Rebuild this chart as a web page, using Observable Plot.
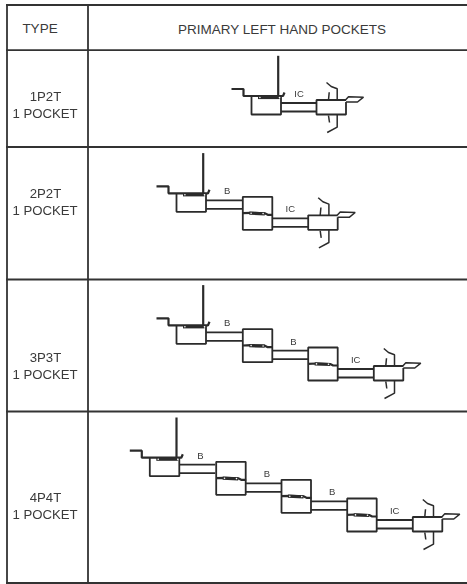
<!DOCTYPE html>
<html><head><meta charset="utf-8">
<style>html,body{margin:0;padding:0;background:#fff}svg{display:block}svg g[aria-label="text"]{opacity:.999}</style>
<script src="https://cdn.jsdelivr.net/npm/d3@7"></script>
<script src="https://cdn.jsdelivr.net/npm/@observablehq/plot@0.6"></script>
</head><body><div id="c"></div>
<script>
// Table rules
const ruleY = [4.5, 49.7, 146.5, 279, 411, 582.5];
const ruleX = [6.5, 87.5];
// Row labels
const headers = [["TYPE", 39.5, 28], ["PRIMARY LEFT HAND POCKETS", 281.5, 29]];
const types = ["1P2T", "2P2T", "3P3T", "4P4T"];
const typeY = [96, 193, 357.3, 497];
const pocketY = [113, 210, 374, 514];
// Module positions of each row: left edge, bottom edge
const moduleX = [
  [251, 316],
  [176, 242.3, 307.7],
  [176, 242.3, 307.7, 373.3],
  [149.3, 215.7, 281, 346.7, 412.3]
];
const moduleBottom = [
  [114, 114],
  [211.3, 229.3, 229.3],
  [343.3, 361.7, 380, 380],
  [475.7, 494.3, 512.3, 531, 531]
];
// Part outlines, offsets from a module's left/bottom corner
const W = 29.5;
const firstParts = [
  {w: 1.8, p: [[0,-18.3],[0,0],[W,0],[W,-18.3]]},
  {w: 2.2, p: [[-20,-25.5],[-8,-25.5],[-8,-18.5],[31.5,-18.5],[33,-22]]},
  {w: 2.2, p: [[26.7,-58.7],[26.7,-18.5]]},
  {w: 3.2, p: [[6.5,-17],[28,-17]]}
];
const middleParts = [
  {w: 1.8, p: [[0,-16],[0,-33],[W,-33],[W,0],[0,0],[0,-16]]},
  {w: 2.2, p: [[0,-16.7],[8,-17],[22,-16.5],[25,-15],[30,-15]]},
  {w: 3.2, p: [[6.5,-16.6],[22,-16]]}
];
const connectorParts = [
  {w: 1.8, p: [[0,-11.5],[36,-11.5]]},
  {w: 1.8, p: [[0,-3],[36,-3]]}
];
const outletParts = [
  {w: 1.8, p: [[W,-12.5],[W,0],[0,0],[0,-14.5],[W,-14.5]]},
  {w: 1.5, p: [[29,-14.5],[32,-17.7],[47,-17.3],[41,-12.5],[W,-12.5]]},
  {w: 1.5, p: [[10,-32],[14.7,-28],[20.7,-25.7],[20.7,-14.7]]},
  {w: 1.5, p: [[12.7,-22.3],[12,-14.7]]},
  {w: 1.5, p: [[12,1],[13,8]]},
  {w: 1.5, p: [[20.7,0],[20.7,12.7],[10.7,18]]}
];
// Small white rivets on the blobs: offsets from the module corner
const firstRivets = [[8.4,-17],[28,-17]];
const middleRivets = [[8.3,-16.6],[20.3,-16.2]];

const segs = [];
const rivets = [];
let id = 0;
function add(parts, x0, y0) {
  for (const part of parts) {
    id++;
    for (const [dx, dy] of part.p) segs.push({id, w: part.w, x: x0 + dx, y: y0 + dy});
  }
}
const labels = [];
moduleX.forEach((xs, r) => {
  xs.forEach((x, i) => {
    const b = moduleBottom[r][i];
    const last = i === xs.length - 1;
    add(last ? outletParts : i === 0 ? firstParts : middleParts, x, b);
    if (!last) {
      for (const [dx, dy] of (i === 0 ? firstRivets : middleRivets)) rivets.push({x: x + dx, y: b + dy});
      add(connectorParts, x + W, b);
      labels.push({t: i === xs.length - 2 ? "IC" : "B", x: x + (i === xs.length - 2 ? 47.5 : 50.7), y: b - 20.5});
    }
  });
});
const frame = [
  ...ruleY.map(y => ({x1: 5.5, x2: 467, y1: y, y2: y})),
  ...ruleX.map(x => ({x1: x, x2: x, y1: 4, y2: 583}))
];
const widths = [...new Set(segs.map(d => d.w))];
const ink = "#2b2b2b";
const text = "#3a3a3a";
const cellText = [
  ...headers.map(([t, x, y]) => ({t, x, y, s: 13.5})),
  ...types.map((t, i) => ({t, x: 45, y: typeY[i], s: 13.2})),
  ...types.map((t, i) => ({t: "1 POCKET", x: 44.5, y: pocketY[i], s: 13.2}))
];
const plot = Plot.plot({
  width: 467, height: 584,
  marginTop: 0, marginRight: 0, marginBottom: 0, marginLeft: 0,
  x: {domain: [0, 467], range: [0, 467], axis: null},
  y: {domain: [0, 584], range: [0, 584], axis: null},
  style: {background: "#fff", fontFamily: "'Liberation Sans', Arial, sans-serif"},
  marks: [
    Plot.link(frame, {x1: "x1", x2: "x2", y1: "y1", y2: "y2", stroke: "#333", strokeWidth: 1.8}),
    ...widths.map(w => Plot.line(segs.filter(d => d.w === w), {x: "x", y: "y", z: "id", stroke: ink, strokeWidth: w, strokeLinejoin: "miter", strokeLinecap: "butt", curve: "linear"})),
    Plot.dot(rivets, {x: "x", y: "y", r: 0.8, fill: "#fff"}),
    Plot.text(cellText.filter(d => d.s === 13.5), {x: "x", y: "y", text: "t", fontSize: 13.5, fill: text, textAnchor: "middle", lineAnchor: "middle"}),
    Plot.text(cellText.filter(d => d.s === 13.2), {x: "x", y: "y", text: "t", fontSize: 13.2, fill: text, textAnchor: "middle", lineAnchor: "middle"}),
    Plot.text(labels, {x: "x", y: "y", text: "t", fontSize: 9.5, fill: text, textAnchor: "middle", lineAnchor: "middle"})
  ]
});
document.getElementById("c").append(plot);
</script></body></html>
